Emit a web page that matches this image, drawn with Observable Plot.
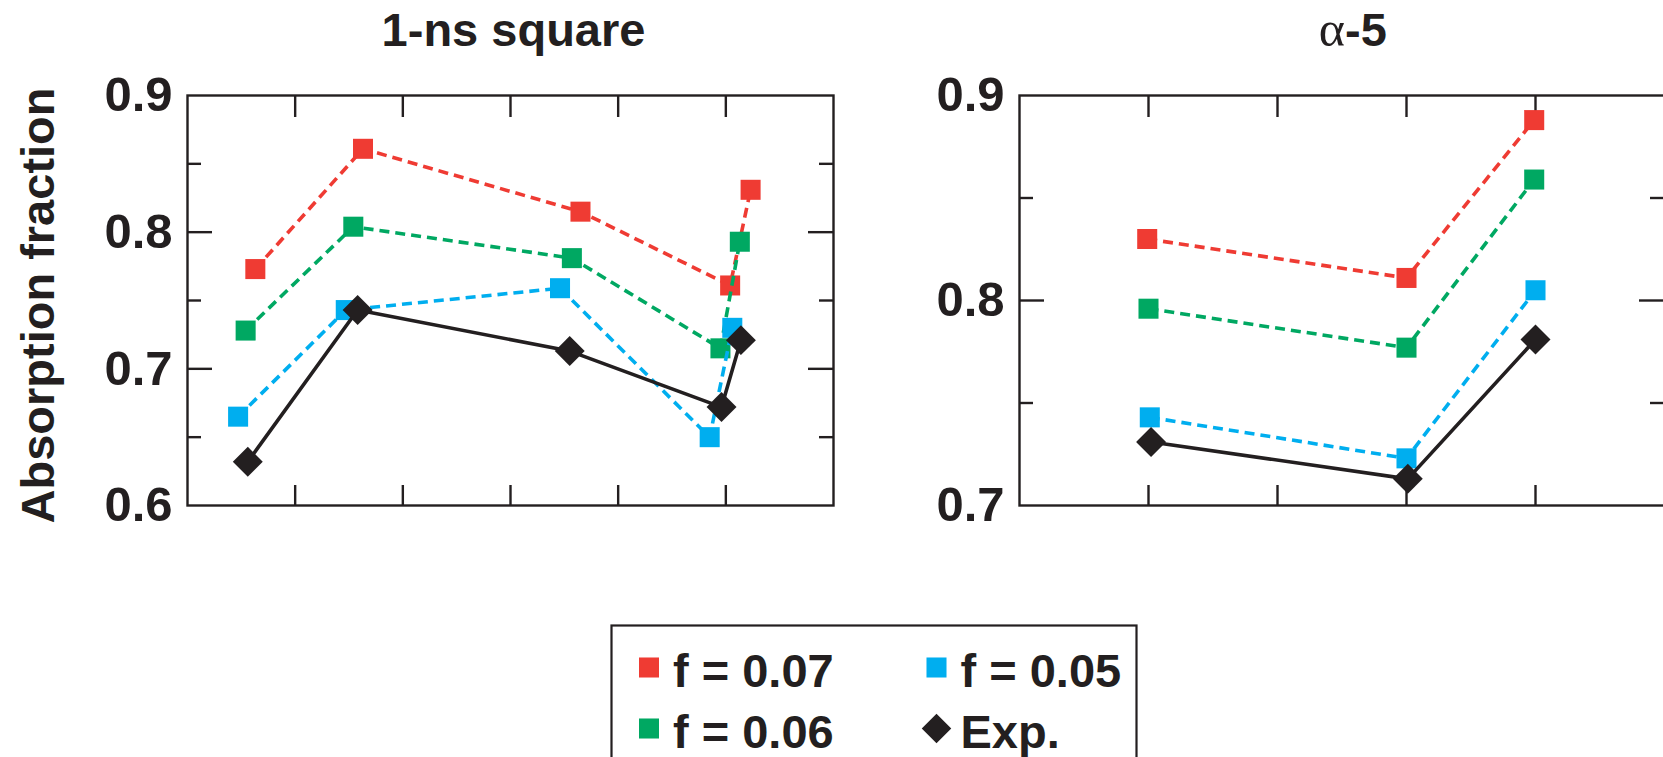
<!DOCTYPE html>
<html>
<head>
<meta charset="utf-8">
<script src="https://cdn.jsdelivr.net/npm/d3@7"></script>
<script src="https://cdn.jsdelivr.net/npm/@observablehq/plot@0.6"></script>
<style>
  html, body { margin: 0; padding: 0; background: #fff; overflow: hidden; }
  #page { position: relative; width: 1663px; height: 757px; overflow: hidden; background: #fff; }
  .box { position: absolute; }
  .box svg { max-width: none; overflow: visible; }
</style>
</head>
<body>
<div id="page"></div>
<script>
// ---------------- data ----------------
const seriesNames  = ["f = 0.07", "f = 0.06", "f = 0.05", "Exp."];
const seriesColors = ["#EF3B33", "#00A862", "#00AEEF", "#231F20"];

// Panel 1: "1-ns square"
const sqTitle = "1-ns square";
const sqX07 = [0.63, 1.63, 3.65, 5.04, 5.23];
const sqY07 = [0.773, 0.861, 0.815, 0.761, 0.831];
const sqX06 = [0.54, 1.54, 3.57, 4.95, 5.13];
const sqY06 = [0.728, 0.804, 0.781, 0.715, 0.793];
const sqX05 = [0.47, 1.47, 3.46, 4.85, 5.06];
const sqY05 = [0.665, 0.743, 0.759, 0.650, 0.730];
const sqXExp = [0.56, 1.58, 3.55, 4.96, 5.14];
const sqYExp = [0.632, 0.743, 0.713, 0.672, 0.721];
const sqXDomain = [0, 6];
const sqXTicks = [1, 2, 3, 4, 5];
const sqYDomain = [0.6, 0.9];
const sqYMajor = [0.7, 0.8];
const sqYMinor = [0.65, 0.75, 0.85];
const sqYLabels = [0.6, 0.7, 0.8, 0.9];

// Panel 2: "α-5"
const a5TitleGreek = "α";
const a5TitleRest = "-5";
const a5X07 = [0.99, 3.0, 3.99];
const a5Y07 = [0.830, 0.811, 0.888];
const a5X06 = [1.0, 3.0, 3.99];
const a5Y06 = [0.796, 0.777, 0.859];
const a5X05 = [1.01, 3.0, 4.0];
const a5Y05 = [0.743, 0.723, 0.805];
const a5XExp = [1.02, 3.01, 4.0];
const a5YExp = [0.731, 0.713, 0.781];
const a5XDomain = [0, 5];
const a5XTicks = [1, 2, 3, 4];
const a5YDomain = [0.7, 0.9];
const a5YMajor = [0.8];
const a5YMinor = [0.75, 0.85];
const a5YLabels = [0.7, 0.8, 0.9];

const yAxisLabel = "Absorption fraction";

// ---------------- helpers ----------------
const INK = "#231F20";
const FONT = "'Liberation Sans', Arial, Helvetica, sans-serif";

function table(xs, ys, s) { return xs.map((x, i) => ({x, y: ys[i], s})); }

function seriesMarks(data) {
  const marks = [];
  seriesNames.forEach((s, i) => {
    const d = data.filter(r => r.s === s);
    const exp = s === "Exp.";
    marks.push(Plot.line(d, {
      x: "x", y: "y", stroke: seriesColors[i], strokeWidth: 3.6,
      strokeLinecap: "butt", strokeLinejoin: "miter",
      ...(exp ? {} : {strokeDasharray: "10,6"})
    }));
    marks.push(Plot.dot(d, {
      x: "x", y: "y", fill: seriesColors[i], stroke: "none",
      symbol: exp ? "diamond2" : "square", r: exp ? 13.5 : 11.3
    }));
  });
  return marks;
}

function panel(opts) {
  const {data, xDomain, xTicks, yDomain, yMajor, yMinor, yLabels, marginLeft, width, extra = []} = opts;
  const marginTop = 95, marginBottom = 10, marginRight = 10, height = 515;
  const fw = width - marginLeft - marginRight;
  const fh = height - marginTop - marginBottom;
  const tickStyle = {stroke: INK, strokeWidth: 2.4};
  return Plot.plot({
    width, height, marginLeft, marginRight, marginTop, marginBottom,
    style: {fontFamily: FONT, color: INK, background: "transparent", overflow: "visible"},
    x: {domain: xDomain, axis: null},
    y: {domain: yDomain, axis: null},
    marks: [
      Plot.tickX(xTicks, {x: d => d, insetBottom: fh - 22, ...tickStyle}),
      Plot.tickX(xTicks, {x: d => d, insetTop: fh - 20, ...tickStyle}),
      Plot.tickY(yMajor, {y: d => d, insetRight: fw - 25, ...tickStyle}),
      Plot.tickY(yMinor, {y: d => d, insetRight: fw - 14, ...tickStyle}),
      Plot.tickY(yMajor, {y: d => d, insetLeft: fw - 25, ...tickStyle}),
      Plot.tickY(yMinor, {y: d => d, insetLeft: fw - 14, ...tickStyle}),
      Plot.text(yLabels, {
        y: d => d, text: d => d.toFixed(1), frameAnchor: "left", textAnchor: "end",
        lineAnchor: "middle", dx: -15, fontSize: 49, fontWeight: "bold", fill: INK
      }),
      ...seriesMarks(data),
      Plot.frame({stroke: INK, strokeWidth: 2.4}),
      ...extra
    ]
  });
}

function place(node, left, top) {
  const div = document.createElement("div");
  div.className = "box";
  div.style.left = left + "px";
  div.style.top = top + "px";
  div.appendChild(node);
  document.getElementById("page").appendChild(div);
}

// ---------------- panel 1 ----------------
const sqData = [
  ...table(sqX07, sqY07, seriesNames[0]),
  ...table(sqX06, sqY06, seriesNames[1]),
  ...table(sqX05, sqY05, seriesNames[2]),
  ...table(sqXExp, sqYExp, seriesNames[3])
];
place(panel({
  data: sqData, xDomain: sqXDomain, xTicks: sqXTicks, yDomain: sqYDomain,
  yMajor: sqYMajor, yMinor: sqYMinor, yLabels: sqYLabels,
  marginLeft: 187, width: 843,
  extra: [
    Plot.text([sqTitle], {text: d => d, frameAnchor: "top", lineAnchor: "bottom",
      dy: -50, dx: 3, fontSize: 47, fontWeight: "bold", fill: INK}),
    Plot.text([yAxisLabel], {text: d => d, frameAnchor: "left", rotate: -90,
      lineAnchor: "bottom", textAnchor: "middle", dx: -134, dy: 5,
      fontSize: 47, fontWeight: "bold", fill: INK})
  ]
}), 0, 0);

// ---------------- panel 2 ----------------
const a5Data = [
  ...table(a5X07, a5Y07, seriesNames[0]),
  ...table(a5X06, a5Y06, seriesNames[1]),
  ...table(a5X05, a5Y05, seriesNames[2]),
  ...table(a5XExp, a5YExp, seriesNames[3])
];
place(panel({
  data: a5Data, xDomain: a5XDomain, xTicks: a5XTicks, yDomain: a5YDomain,
  yMajor: a5YMajor, yMinor: a5YMinor, yLabels: a5YLabels,
  marginLeft: 119, width: 774,
  extra: [
    Plot.text([a5TitleGreek], {text: d => d, frameAnchor: "top", lineAnchor: "bottom",
      textAnchor: "end", dy: -50, dx: 3, fontSize: 50, fontWeight: "normal",
      fontFamily: "'Liberation Serif', 'DejaVu Serif', serif", fill: INK}),
    Plot.text([a5TitleRest], {text: d => d, frameAnchor: "top", lineAnchor: "bottom",
      textAnchor: "start", dy: -50, dx: 3, fontSize: 47, fontWeight: "bold", fill: INK})
  ]
}), 900, 0);

// ---------------- legend ----------------
const legendItems = seriesNames.map((s, i) => ({s, col: Math.floor(i / 2), row: i % 2, color: seriesColors[i]}));
const legendSquares = legendItems.filter(d => d.s !== "Exp.");
const legendDiamonds = legendItems.filter(d => d.s === "Exp.");
place(Plot.plot({
  width: 527, height: 140, marginLeft: 1, marginRight: 1, marginTop: 1, marginBottom: 1,
  style: {fontFamily: FONT, color: INK, background: "transparent", overflow: "visible"},
  x: {domain: [0, 1], range: [38.5, 326], axis: null},
  y: {domain: [0, 1], range: [43, 104], axis: null},
  marks: [
    Plot.frame({stroke: INK, strokeWidth: 2.2}),
    Plot.dot(legendSquares, {x: "col", y: "row", fill: d => d.color, stroke: "none",
      symbol: "square", r: 11.3}),
    Plot.dot(legendDiamonds, {x: "col", y: "row", fill: d => d.color, stroke: "none",
      symbol: "diamond2", r: 13.3}),
    Plot.text(legendItems, {x: "col", y: "row", text: "s", dx: 24, dy: 19,
      textAnchor: "start", lineAnchor: "bottom", fontSize: 47, fontWeight: "bold", fill: INK})
  ]
}), 610, 624);
</script>
</body>
</html>
